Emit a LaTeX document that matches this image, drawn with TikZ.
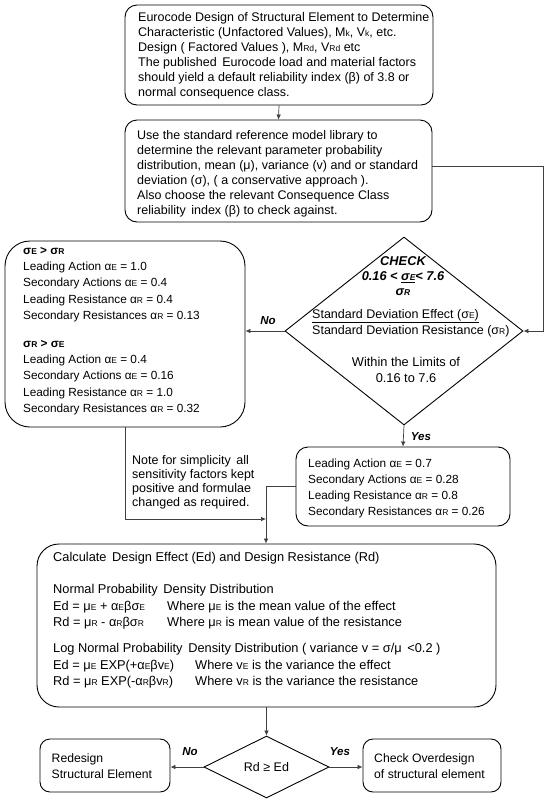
\documentclass[tikz,border=0pt]{standalone}
\usepackage{fontspec}
\setmainfont{Liberation Sans}
\usetikzlibrary{shapes.geometric,arrows.meta}
\newcommand\lw[1]{{\fontsize{8.5}{8.5}\selectfont #1}}
\begin{document}
\begin{tikzpicture}[x=1pt,y=-1pt,
  font=\fontsize{12.5}{15}\selectfont,
  box/.style={draw=black, line width=0.9pt, rounded corners=12pt, inner sep=0pt},
  txt/.style={align=left, inner sep=0pt, anchor=west},
  arr/.style={draw=black!75, line width=0.7pt, -{Latex[length=5pt,width=4.5pt]}},
  lin/.style={draw=black!75, line width=0.7pt},
  lbl/.style={font=\fontsize{11.5}{12}\selectfont\bfseries\itshape, inner sep=0pt}]
\useasboundingbox (0,0) rectangle (550,801);
\fill[white] (0,0) rectangle (550,801);

% top box
\node[box, minimum width=308pt, minimum height=100pt] (top) at (279,55) {};
\node[txt] (toptxt) at (138,55.5) {Eurocode Design of Structural Element to Determine\\
Characteristic (Unfactored Values), M\lw{k}, V\lw{k}, etc.\\
Design ( Factored Values ), M\lw{Rd}, V\lw{Rd} etc\\
The published\, Eurocode load and material factors\\
should yield a default reliability index (β) of 3.8 or\\
normal consequence class.};

% second box
\node[box, minimum width=307pt, minimum height=102pt] (sec) at (278.5,171) {};
\node[txt] (sectxt) at (137,173.5) {Use the standard reference model library to\\
determine the relevant parameter probability\\
distribution, mean (μ), variance (v) and or standard\\
deviation (σ), ( a conservative approach ).\\
Also choose the relevant Consequence Class\\
reliability\, index (β) to check against.};

% left box
\node[box, rounded corners=25pt, minimum width=240pt, minimum height=186pt] (lbox) at (125,334) {};
\node[txt, font=\fontsize{11.8}{16.3}\selectfont] (ltxt) at (23,331) {\textbf{σ\lw{E} > σ\lw{R}}\\
Leading Action α\lw{E} = 1.0\\
Secondary Actions α\lw{E} = 0.4\\
Leading Resistance α\lw{R} = 0.4\\
Secondary Resistances α\lw{R} = 0.13\\[11.5pt]
\textbf{σ\lw{R} > σ\lw{E}}\\
Leading Action α\lw{E} = 0.4\\
Secondary Actions α\lw{E} = 0.16\\
Leading Resistance α\lw{R} = 1.0\\
Secondary Resistances α\lw{R} = 0.32};

% check diamond
\node[diamond, draw=black, line width=0.9pt, minimum width=238pt, minimum height=188pt, inner sep=0pt] (chk) at (404,331) {};
\node[align=center, inner sep=0pt, font=\fontsize{12.8}{15}\selectfont\bfseries\itshape] (chktxt) at (403,276) {CHECK\\0.16 < \underline{σ\lw{E}}< 7.6\\σ\lw{R}};
\node[txt, font=\fontsize{12.5}{16}\selectfont] (sdtxt) at (312,323) {\underline{Standard Deviation Effect (σ\lw{E})}\\Standard Deviation Resistance (σ\lw{R})};
\node[align=center, inner sep=0pt, font=\fontsize{12.8}{16}\selectfont] (limtxt) at (406,370) {Within the Limits of\\0.16 to 7.6};

% right box
\node[box, minimum width=214pt, minimum height=79pt] (rbox) at (403,486.5) {};
\node[txt, font=\fontsize{11.8}{16}\selectfont] (rtxt) at (308,488) {Leading Action α\lw{E} = 0.7\\
Secondary Actions α\lw{E} = 0.28\\
Leading Resistance α\lw{R} = 0.8\\
Secondary Resistances α\lw{R} = 0.26};

% note
\node[txt, font=\fontsize{12.5}{14}\selectfont] (note) at (132,482) {Note for simplicity\, all\\
sensitivity factors kept\\
positive and formulae\\
changed as required.};

% big box
\node[box, rounded corners=22pt, minimum width=459pt, minimum height=163pt] (big) at (266.5,625.5) {};
\node[txt, font=\fontsize{12.8}{16.5}\selectfont] (bigtxt) at (53,620.5) {Calculate\, Design Effect (Ed) and Design Resistance (Rd)\\[15.5pt]
Normal Probability\, Density Distribution\\
\makebox[114pt][l]{Ed = μ\lw{E} + α\lw{E}βσ\lw{E}}Where μ\lw{E} is the mean value of the effect\\
\makebox[114pt][l]{Rd = μ\lw{R} - α\lw{R}βσ\lw{R}}Where μ\lw{R} is mean value of the resistance\\[9.5pt]
Log Normal Probability\, Density Distribution ( variance v = σ/μ\, <0.2 )\\
\makebox[142pt][l]{Ed = μ\lw{E} EXP(+α\lw{E}βv\lw{E})}Where v\lw{E} is the variance the effect\\
\makebox[142pt][l]{Rd = μ\lw{R} EXP(-α\lw{R}βv\lw{R})}Where v\lw{R} is the variance the resistance};

% bottom row
\node[diamond, draw=black, line width=0.9pt, minimum width=125pt, minimum height=62pt, inner sep=0pt] (rd) at (266.5,767) {};
\node[inner sep=0pt] (rdtxt) at (266.5,767) {Rd ≥ Ed};
\node[box, rounded corners=10pt, minimum width=130pt, minimum height=53pt] (redes) at (105,765.5) {};
\node[txt, font=\fontsize{12.2}{15.5}\selectfont] (redtxt) at (51.5,766) {Redesign\\Structural Element};
\node[box, rounded corners=10pt, minimum width=138pt, minimum height=53pt] (over) at (432,765.5) {};
\node[txt, font=\fontsize{12.2}{15.5}\selectfont] (ovtxt) at (374,766) {Check Overdesign\\of structural element};

% coordinates
\coordinate (loop) at (543,166);
\coordinate (j1) at (266,519);
\coordinate (j2) at (266,486.5);

% connectors
\draw[arr] (top.south) -- (sec.north);
\draw[lin] (sec.east |- loop) -- (loop);
\draw[arr] (loop) |- (chk.east);
\draw[arr] (chk.west) -- (chk.west -| lbox.east);
\draw[arr] (chk.south) -- (rbox.north);
\draw[arr] (lbox.south) |- (j1);
\draw[arr] (rbox.west) -- (j2) -- (j2 |- big.north);
\draw[arr] (big.south) -- (rd.north);
\draw[arr] (rd.west) -- (rd.west -| redes.east);
\draw[arr] (rd.east) -- (rd.east -| over.west);

% labels
\node[lbl] (no1) at (268,321) {No};
\node[lbl] (yes1) at (421,437) {Yes};
\node[lbl] (no2) at (190,752) {No};
\node[lbl] (yes2) at (340,752) {Yes};
\end{tikzpicture}
\end{document}
